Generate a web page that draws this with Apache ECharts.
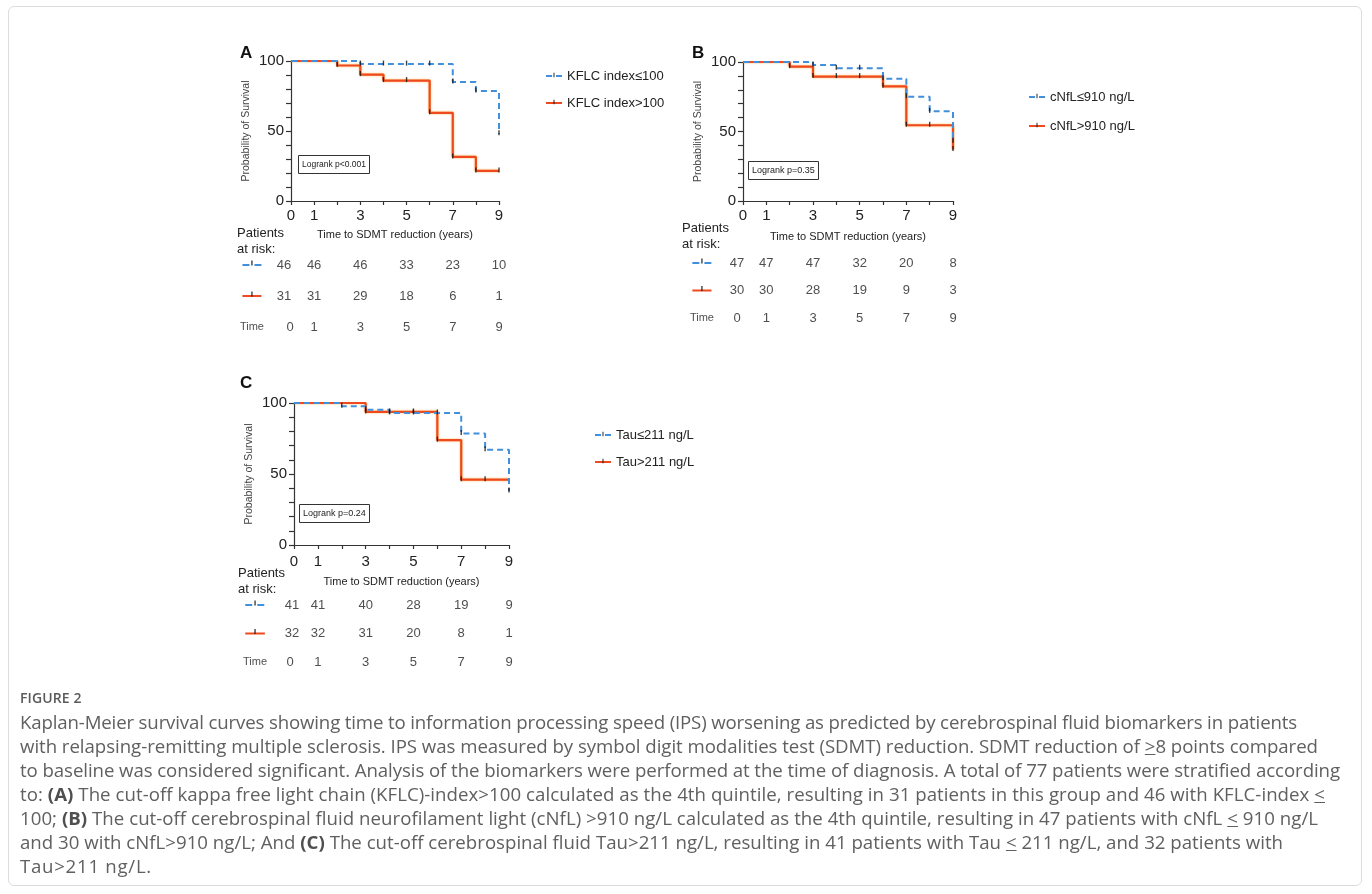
<!DOCTYPE html>
<html><head><meta charset="utf-8"><title>Kaplan-Meier curves</title>
<script src="https://cdn.jsdelivr.net/npm/echarts@6.0.0/dist/echarts.min.js"></script>
<style>
html,body{margin:0;padding:0;background:#fff;width:1372px;height:894px;overflow:hidden;}
#chart{position:absolute;left:0;top:0;width:1372px;height:894px;}
#frame{position:absolute;left:8px;top:6px;width:1354px;height:880px;border:1px solid #dcdcdc;border-radius:6px;box-sizing:border-box;pointer-events:none;}
#caption{position:absolute;left:20px;top:686px;font-family:'Open Sans',sans-serif;color:#606060;}
#caption .fig{font-size:14px;line-height:24px;height:24px;font-weight:600;color:#5a5a5a;letter-spacing:0.1px;white-space:nowrap;}
#caption .ln{font-size:16px;line-height:24px;height:24px;white-space:nowrap;}
#caption b{font-weight:700;color:#4f4f4f;}
</style></head>
<body>
<div id="chart"></div>
<div id="frame"></div>
<div id="caption">
 <div class="fig">FIGURE 2</div>
 <div class="ln" data-w="1277"><span class="t">Kaplan-Meier survival curves showing time to information processing speed (IPS) worsening as predicted by cerebrospinal fluid biomarkers in patients</span></div>
 <div class="ln" data-w="1298"><span class="t">with relapsing-remitting multiple sclerosis. IPS was measured by symbol digit modalities test (SDMT) reduction. SDMT reduction of <u>&gt;</u>8 points compared</span></div>
 <div class="ln" data-w="1320"><span class="t">to baseline was considered significant. Analysis of the biomarkers were performed at the time of diagnosis. A total of 77 patients were stratified according</span></div>
 <div class="ln" data-w="1305"><span class="t">to: <b>(A)</b> The cut-off kappa free light chain (KFLC)-index&gt;100 calculated as the 4th quintile, resulting in 31 patients in this group and 46 with KFLC-index <u>&lt;</u></span></div>
 <div class="ln" data-w="1298"><span class="t">100; <b>(B)</b> The cut-off cerebrospinal fluid neurofilament light (cNfL) &gt;910 ng/L calculated as the 4th quintile, resulting in 47 patients with cNfL <u>&lt;</u> 910 ng/L</span></div>
 <div class="ln" data-w="1263"><span class="t">and 30 with cNfL&gt;910 ng/L; And <b>(C)</b> The cut-off cerebrospinal fluid Tau&gt;211 ng/L, resulting in 41 patients with Tau <u>&lt;</u> 211 ng/L, and 32 patients with</span></div>
 <div class="ln" data-w="132"><span class="t">Tau&gt;211 ng/L.</span></div>
</div>
<script>
// ---------------- DATA ----------------
const yearLabels = [0, 1, 3, 5, 7, 9];          // x tick labels shown
const survivalLabels = [0, 50, 100];            // y tick labels shown
const riskTimes = [0, 1, 3, 5, 7, 9];           // risk table columns
const xAxisTitle = 'Time to SDMT reduction (years)';
const yAxisTitle = 'Probability of Survival';

// Panel A
const kflcLowName = 'KFLC index≤100';
const kflcHighName = 'KFLC index>100';
const kflcLowCurve = [[0, 100], [3, 97.8], [7, 85], [8, 78.5], [9, 48]];
const kflcHighCurve = [[0, 100], [2, 96.8], [3, 90.3], [4, 86], [6, 63], [7, 31.5], [8, 21.5], [9, 21.5]];
const kflcLowCensor = [3, 4, 5, 6, 7, 8, 9];
const kflcHighCensor = [2, 3, 4, 5, 6, 7, 8, 9];
const kflcLowRisk = [46, 46, 46, 33, 23, 10];
const kflcHighRisk = [31, 31, 29, 18, 6, 1];
const kflcLogrank = 'Logrank p<0.001';

// Panel B
const cnflLowName = 'cNfL≤910 ng/L';
const cnflHighName = 'cNfL>910 ng/L';
const cnflLowCurve = [[0, 100], [3, 97.9], [4, 95.5], [6, 88], [7, 75], [8, 64.5], [9, 43]];
const cnflHighCurve = [[0, 100], [2, 96.7], [3, 89.5], [6, 82.5], [7, 54.5], [9, 37]];
const cnflLowCensor = [3, 4, 5, 6, 7, 8, 9];
const cnflHighCensor = [2, 3, 4, 5, 6, 7, 8, 9];
const cnflLowRisk = [47, 47, 47, 32, 20, 8];
const cnflHighRisk = [30, 30, 28, 19, 9, 3];
const cnflLogrank = 'Logrank p=0.35';

// Panel C
const tauLowName = 'Tau≤211 ng/L';
const tauHighName = 'Tau>211 ng/L';
const tauLowCurve = [[0, 100], [2, 97.7], [3, 95.3], [4, 93], [7, 78.5], [8, 67], [9, 38]];
const tauHighCurve = [[0, 100], [3, 93.7], [6, 73.8], [7, 46], [9, 46]];
const tauLowCensor = [2, 3, 4, 5, 6, 7, 8, 9];
const tauHighCensor = [3, 4, 5, 6, 7, 8];
const tauLowRisk = [41, 41, 40, 28, 19, 9];
const tauHighRisk = [32, 32, 31, 20, 8, 1];
const tauLogrank = 'Logrank p=0.24';

const panels = [
  { letter: 'A', logrank: kflcLogrank,
    low: { name: kflcLowName, curve: kflcLowCurve, censor: kflcLowCensor, risk: kflcLowRisk },
    high: { name: kflcHighName, curve: kflcHighCurve, censor: kflcHighCensor, risk: kflcHighRisk } },
  { letter: 'B', logrank: cnflLogrank,
    low: { name: cnflLowName, curve: cnflLowCurve, censor: cnflLowCensor, risk: cnflLowRisk },
    high: { name: cnflHighName, curve: cnflHighCurve, censor: cnflHighCensor, risk: cnflHighRisk } },
  { letter: 'C', logrank: tauLogrank,
    low: { name: tauLowName, curve: tauLowCurve, censor: tauLowCensor, risk: tauLowRisk },
    high: { name: tauHighName, curve: tauHighCurve, censor: tauHighCensor, risk: tauHighRisk } }
];

// ---------------- LAYOUT / STYLE ----------------
const layouts = [
  { grid: { left: 291, top: 61, width: 208, height: 140 }, risk: { top: 249.5, height: 93 },
    letter: { left: 240, top: 45 }, box: { left: 298, top: 155 }, boxFont: 8.5, legend: { left: 545, top: 69, itemGap: 13 },
    header: { x: 237, y: 225 }, symX: -1.69, zeroShift: -7, timeZeroShift: -1, nameGap: 28, yNameGap: 39, xMargin: 7 },
  { grid: { left: 743, top: 62, width: 210, height: 139 }, risk: { top: 249.25, height: 82.5 },
    letter: { left: 692, top: 45 }, box: { left: 748, top: 161 }, boxFont: 9, legend: { left: 1028, top: 90, itemGap: 15 },
    header: { x: 682, y: 220 }, symX: -1.76, zeroShift: -6, timeZeroShift: -6, nameGap: 30, yNameGap: 39, xMargin: 7 },
  { grid: { left: 294, top: 403, width: 215, height: 142 }, risk: { top: 590.75, height: 85.5 },
    letter: { left: 240, top: 375 }, box: { left: 299, top: 504 }, boxFont: 9, legend: { left: 594, top: 428, itemGap: 13 },
    header: { x: 238, y: 565 }, symX: -1.63, zeroShift: -2, timeZeroShift: -4, nameGap: 31, yNameGap: 39, xMargin: 9 }
];

const FONT = '"Liberation Sans", Arial, Helvetica, sans-serif';
const blue = '#4190de', red = '#ef4a1f', ink = '#222', axisCol = '#333';
const tickSymbol = 'path://M0,0M10,10M4.3,0h1.4v7h-1.4z';
const blueDash = [6, 4];

function valueAt(curve, t) { let v = curve[0][1]; for (const p of curve) { if (p[0] <= t) v = p[1]; } return v; }

const grid = [], xAxis = [], yAxis = [], series = [], legend = [], title = [], graphic = [];

panels.forEach((p, i) => {
  const L = layouts[i];
  const gMain = grid.length;
  grid.push({ left: L.grid.left, top: L.grid.top, width: L.grid.width, height: L.grid.height, containLabel: false, outerBoundsMode: 'none' });
  xAxis.push({ gridIndex: gMain, type: 'value', min: 0, max: 9, interval: 1,
    axisLine: { show: true, onZero: false, lineStyle: { color: axisCol, width: 1.2 } },
    axisTick: { show: true, length: 4, lineStyle: { color: axisCol, width: 1.2 } },
    axisLabel: { fontSize: 15, color: ink, margin: L.xMargin, formatter: v => yearLabels.includes(v) ? String(v) : '' },
    splitLine: { show: false },
    name: xAxisTitle, nameLocation: 'middle', nameGap: L.nameGap, nameTextStyle: { fontSize: 11, color: ink } });
  yAxis.push({ gridIndex: gMain, type: 'value', min: 0, max: 100, interval: 10,
    axisLine: { show: true, onZero: false, lineStyle: { color: axisCol, width: 1.2 } },
    axisTick: { show: true, length: 5, lineStyle: { color: axisCol, width: 1.2 } },
    axisLabel: { fontSize: 15, color: ink, margin: 7, formatter: v => survivalLabels.includes(v) ? String(v) : '' },
    splitLine: { show: false },
    name: yAxisTitle, nameLocation: 'middle', nameGap: L.yNameGap, nameRotate: 90, nameTextStyle: { fontSize: 10.5, color: '#444' } });

  const gRisk = grid.length;
  grid.push({ left: L.grid.left, top: L.risk.top, width: L.grid.width, height: L.risk.height, containLabel: false, outerBoundsMode: 'none' });
  const xr = xAxis.length;
  xAxis.push({ gridIndex: gRisk, type: 'value', min: 0, max: 9, show: false });
  const yr = yAxis.length;
  yAxis.push({ gridIndex: gRisk, type: 'category', data: ['low', 'high', 'time'], inverse: true, show: false });

  // curves (red first, blue on top)
  series.push({ type: 'line', name: p.high.name, xAxisIndex: gMain, yAxisIndex: gMain, data: p.high.curve, step: 'end',
    symbol: tickSymbol, symbolSize: 6, showSymbol: false, silent: true, z: 3,
    lineStyle: { color: red, width: 2.2, shadowColor: 'rgba(255,150,0,0.7)', shadowBlur: 2 }, itemStyle: { color: '#111' } });
  series.push({ type: 'line', name: p.low.name, xAxisIndex: gMain, yAxisIndex: gMain, data: p.low.curve, step: 'end',
    symbol: tickSymbol, symbolSize: 6, showSymbol: false, silent: true, z: 4,
    lineStyle: { color: blue, width: 2, type: blueDash }, itemStyle: { color: '#111' } });
  // censor marks
  [p.high, p.low].forEach(g => {
    series.push({ type: 'scatter', name: g.name + ' censored', xAxisIndex: gMain, yAxisIndex: gMain, silent: true, z: 6,
      data: g.censor.map(t => [t, valueAt(g.curve, t)]), symbol: 'rect', symbolSize: [1.4, 5], symbolOffset: [0, -1],
      itemStyle: { color: '#111' } });
  });

  // risk table numbers
  const rows = [['low', p.low.risk], ['high', p.high.risk]];
  rows.forEach(([rowIdx, vals], r) => {
    series.push({ type: 'scatter', name: 'risk ' + rowIdx, xAxisIndex: xr, yAxisIndex: yr, silent: true, clip: false,
      symbolSize: 1, itemStyle: { color: 'rgba(0,0,0,0)' },
      data: riskTimes.map((t, k) => ({ value: [t, r, vals[k]], label: k === 0 ? { offset: [L.zeroShift, 0] } : undefined })),
      label: { show: true, position: 'inside', formatter: q => String(q.value[2]), fontSize: 13, color: ink } });
  });
  series.push({ type: 'scatter', name: 'risk time', xAxisIndex: xr, yAxisIndex: yr, silent: true, clip: false,
    symbolSize: 1, itemStyle: { color: 'rgba(0,0,0,0)' },
    data: riskTimes.map((t, k) => ({ value: [t, 2, t], label: k === 0 ? { offset: [L.timeZeroShift, 0] } : undefined }))
      .concat([{ value: [L.symX, 2, 'Time'], label: { fontSize: 11 } }]),
    label: { show: true, position: 'inside', formatter: q => String(q.value[2]), fontSize: 13, color: ink } });
  // risk row symbols
  series.push({ type: 'line', name: 'sym low', xAxisIndex: xr, yAxisIndex: yr, silent: true, clip: false, symbol: 'none',
    data: [[L.symX - 0.41, 0], [L.symX + 0.41, 0]], lineStyle: { color: blue, width: 2, type: [7, 5] } });
  series.push({ type: 'line', name: 'sym high', xAxisIndex: xr, yAxisIndex: yr, silent: true, clip: false, symbol: 'none',
    data: [[L.symX - 0.41, 1], [L.symX + 0.41, 1]], lineStyle: { color: red, width: 2 } });
  series.push({ type: 'scatter', name: 'sym ticks', xAxisIndex: xr, yAxisIndex: yr, silent: true, clip: false, z: 5,
    data: [[L.symX, 0], [L.symX, 1]], symbol: 'rect', symbolSize: [1.4, 5], symbolOffset: [0, -2], itemStyle: { color: '#111' } });

  legend.push({ data: [p.low.name, p.high.name], orient: 'vertical', left: L.legend.left, top: L.legend.top,
    itemGap: L.legend.itemGap, itemWidth: 16, itemHeight: 8, selectedMode: false, padding: 0,
    textStyle: { fontSize: 13, color: ink, lineHeight: 14 } });
  title.push({ text: p.letter, left: L.letter.left, top: L.letter.top, padding: 0,
    textStyle: { fontSize: 17, fontWeight: 'bold', color: '#111' } });
  title.push({ text: p.logrank, left: L.box.left, top: L.box.top, padding: [4, 4], borderWidth: 1, borderColor: '#333',
    textStyle: { fontSize: L.boxFont, fontWeight: 'normal', color: ink, lineHeight: 11 } });
  graphic.push({ type: 'text', left: L.header.x, top: L.header.y, silent: true,
    style: { text: 'Patients\nat risk:', fontSize: 13, fontFamily: FONT, fill: ink, lineHeight: 16 } });
});

const chart = echarts.init(document.getElementById('chart'), null, { renderer: 'canvas' });
chart.setOption({
  animation: false, backgroundColor: '#fff',
  textStyle: { fontFamily: FONT },
  grid, xAxis, yAxis, series, legend, title, graphic
});

// caption fitting: common font size from median width ratio, residual per-line letter spacing
function fitCaption() {
  const lines = [...document.querySelectorAll('#caption .ln')];
  lines.forEach(l => { l.style.fontSize = '16px'; l.style.letterSpacing = '0px'; });
  const ratios = lines.map(l => (+l.dataset.w) / l.querySelector('.t').getBoundingClientRect().width).sort((a, b) => a - b);
  const fs = 16 * ratios[Math.floor(ratios.length / 2)];
  lines.forEach(l => {
    l.style.fontSize = fs + 'px';
    const s = l.querySelector('.t');
    const w = s.getBoundingClientRect().width;
    const n = s.textContent.length;
    l.style.letterSpacing = ((+l.dataset.w - w) / n) + 'px';
  });
}
fitCaption();
if (document.fonts && document.fonts.ready) document.fonts.ready.then(fitCaption);
</script>
</body></html>
